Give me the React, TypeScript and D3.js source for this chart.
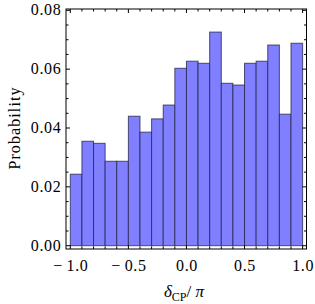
import * as d3 from "d3"
import React from "react"

// bin left edges (δCP/π) and probabilities
const binStarts = [-1.0, -0.9, -0.8, -0.7, -0.6, -0.5, -0.4, -0.3, -0.2, -0.1,
    0.0, 0.1, 0.2, 0.3, 0.4, 0.5, 0.6, 0.7, 0.8, 0.9]
const probs = [0.0243, 0.0355, 0.0348, 0.0287, 0.0287, 0.044, 0.0386, 0.0431, 0.0478, 0.0603,
    0.0627, 0.062, 0.0726, 0.0552, 0.0546, 0.062, 0.0627, 0.0682, 0.0447, 0.0688]
const binWidth = 0.1
const xTickLabels = ["\u2212\u20091.0", "\u2212\u20090.5", "0.0", "0.5", "1.0"]
const xTickValues = [-1, -0.5, 0, 0.5, 1]
const yTickValues = [0, 0.02, 0.04, 0.06, 0.08]

const W = 315
const H = 304
const frame = { left: 66, right: 306.5, top: 9, bottom: 249 }

const App = () => {
    const x = d3.scaleLinear().domain([-1, 1]).range([70.3, 302.6])
    const y = d3.scaleLinear().domain([0, 0.08]).range([245.7, 10.3])

    const xMinor = d3.range(-10, 11).map(i => i / 10)
    const yMinor = d3.range(0, 17).map(i => i * 0.005)
    const isMajorX = (v: number) => Math.abs(v * 2 - Math.round(v * 2)) < 1e-6
    const isMajorY = (v: number) => Math.abs(v * 50 - Math.round(v * 50)) < 1e-6

    const font = "'Liberation Serif', 'DejaVu Serif', serif"

    return (
        <svg width={W} height={H} style={{ position: "absolute", left: 0, top: 0 }}>
            <rect width={W} height={H} fill="#fff" />
            {/* bars */}
            <g>
                {probs.map((p, i) => (
                    <rect key={i}
                        x={x(binStarts[i])}
                        y={y(p)}
                        width={x(binStarts[i] + binWidth) - x(binStarts[i])}
                        height={y(0) - y(p)}
                        fill="#7f7fff"
                        stroke="#222244"
                        strokeOpacity={0.75}
                        strokeWidth={1} />
                ))}
            </g>
            {/* frame */}
            <rect x={frame.left} y={frame.top} width={frame.right - frame.left}
                height={frame.bottom - frame.top} fill="none" stroke="#000" strokeWidth={1} />
            {/* x ticks bottom and top */}
            {xMinor.map((v, i) => {
                const len = isMajorX(v) ? 4 : 2.5
                return (
                    <g key={"xt" + i}>
                        <line x1={x(v)} x2={x(v)} y1={frame.bottom} y2={frame.bottom - len} stroke="#000" />
                        <line x1={x(v)} x2={x(v)} y1={frame.top} y2={frame.top + len} stroke="#000" />
                    </g>
                )
            })}
            {/* y ticks left and right */}
            {yMinor.map((v, i) => {
                const len = isMajorY(v) ? 4 : 2.5
                return (
                    <g key={"yt" + i}>
                        <line x1={frame.left} x2={frame.left + len} y1={y(v)} y2={y(v)} stroke="#000" />
                        <line x1={frame.right} x2={frame.right - len} y1={y(v)} y2={y(v)} stroke="#000" />
                    </g>
                )
            })}
            {/* tick labels */}
            {xTickValues.map((v, i) => (
                <text key={"xl" + i} x={x(v) + 0.5} y={270.5} textAnchor="middle"
                    fontFamily={font} fontSize={16} letterSpacing={0.6}>{xTickLabels[i]}</text>
            ))}
            {yTickValues.map((v, i) => (
                <text key={"yl" + i} x={61.5} y={y(v) + 5} textAnchor="end"
                    fontFamily={font} fontSize={16} letterSpacing={0.7}>{d3.format(".2f")(v)}</text>
            ))}
            {/* axis labels */}
            <text transform={`translate(19.5, ${(frame.top + frame.bottom) / 2 - 1}) rotate(-90)`}
                textAnchor="middle" fontFamily={font} fontSize={16} letterSpacing={1.1}>Probability</text>
            <text x={184} y={297} textAnchor="middle" fontFamily={font} fontSize={17}>
                <tspan fontStyle="italic">δ</tspan>
                <tspan fontSize={12} dy={4}>CP</tspan>
                <tspan dy={-4}>/ </tspan>
                <tspan fontStyle="italic">π</tspan>
            </text>
        </svg>
    )
}

export default App
